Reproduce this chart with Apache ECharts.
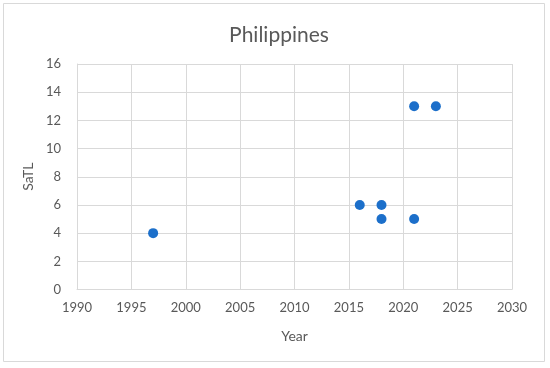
<!DOCTYPE html>
<html><head><meta charset="utf-8">
<script src="https://cdn.jsdelivr.net/npm/echarts@6/dist/echarts.min.js"></script>
<style>html,body{margin:0;padding:0;background:#fff}#c{width:550px;height:368px}</style>
</head><body><div id="c"></div>
<script>
var years = [1997, 2016, 2018, 2018, 2021, 2021, 2023];
var satl  = [4, 6, 6, 5, 5, 13, 13];
var titleText = 'Philippines';
var xName = 'Year';
var yName = 'SaTL';

var chart = echarts.init(document.getElementById('c'), null, {renderer: 'canvas'});
var font = 'Lato, "Open Sans", sans-serif';
chart.setOption({
  animation: false,
  graphic: [{type: 'rect', shape: {x: 3.5, y: 3.5, width: 541, height: 358}, style: {fill: 'none', stroke: '#d9d9d9', lineWidth: 1}, z: -1}],
  title: {text: titleText, left: 274, top: 20, textAlign: 'center',
    textStyle: {fontFamily: font, fontSize: 21, fontWeight: 'normal', color: '#595959'}},
  grid: {left: 77, right: 38, top: 64, bottom: 78.5},
  xAxis: {type: 'value', min: 1990, max: 2030, interval: 5,
    name: xName, nameLocation: 'middle', nameGap: 40,
    nameTextStyle: {fontFamily: font, fontSize: 14, color: '#595959'},
    axisLine: {show: true, lineStyle: {color: '#d9d9d9'}}, axisTick: {show: false},
    axisLabel: {fontFamily: font, fontSize: 13, color: '#595959', margin: 12,
      formatter: function (v) { return String(v); }},
    splitLine: {show: true, lineStyle: {color: '#d9d9d9'}}},
  yAxis: {type: 'value', min: 0, max: 16, interval: 2,
    name: yName, nameLocation: 'middle', nameGap: 40,
    nameTextStyle: {fontFamily: font, fontSize: 14, color: '#595959'},
    axisLine: {show: true, lineStyle: {color: '#d9d9d9'}}, axisTick: {show: false},
    axisLabel: {fontFamily: font, fontSize: 13, color: '#595959', margin: 16},
    splitLine: {show: true, lineStyle: {color: '#d9d9d9'}}},
  series: [{type: 'scatter', symbol: 'circle', symbolSize: 10,
    itemStyle: {color: '#1c6fca', opacity: 1},
    data: years.map(function (y, i) { return [y, satl[i]]; })}]
});
</script></body></html>
